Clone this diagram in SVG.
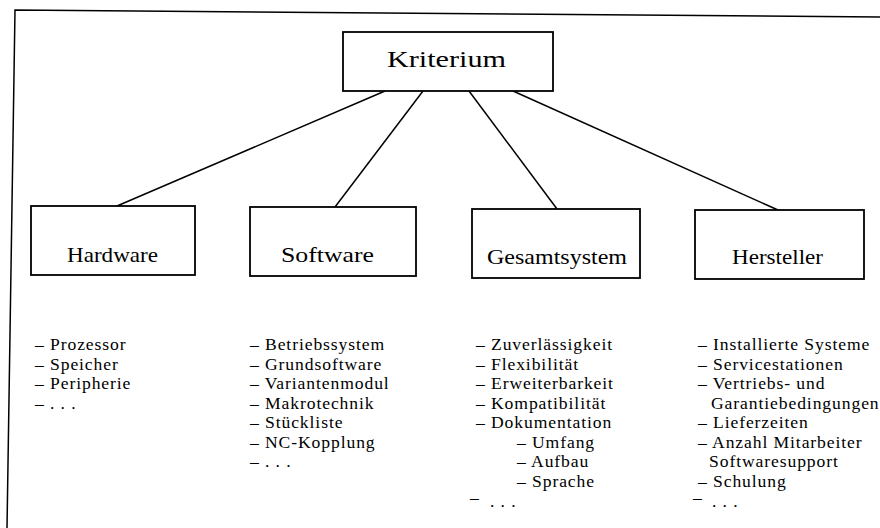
<svg xmlns="http://www.w3.org/2000/svg" width="880" height="528" viewBox="0 0 880 528">
<style>
.box{fill:#fff;stroke:#000;stroke-width:1.8}
.hd{font-family:"Liberation Serif",serif;font-size:22px;fill:#000}
.li{font-family:"Liberation Serif",serif;font-size:17.6px;letter-spacing:0.9px;fill:#000}
.cn{stroke:#000;stroke-width:1.5;fill:none}
</style>
<rect width="880" height="528" fill="#fff"/>
<polyline class="cn" points="7,528 15,10 880,17"/>
<g id="connectors">
<line class="cn" x1="385" y1="91" x2="117" y2="206"/>
<line class="cn" x1="423" y1="91" x2="335" y2="207"/>
<line class="cn" x1="469" y1="91" x2="557" y2="209"/>
<line class="cn" x1="513" y1="91" x2="778" y2="210"/>
</g>
<g id="kriterium">
<rect class="box" x="343" y="32" width="210" height="59"/>
<text class="hd" style="font-size:24px" x="387" y="67" textLength="119" lengthAdjust="spacingAndGlyphs">Kriterium</text>
</g>
<g id="hardware">
<rect class="box" x="31" y="206" width="164" height="69"/>
<text class="hd" x="67" y="262" textLength="91" lengthAdjust="spacingAndGlyphs">Hardware</text>
</g>
<g id="software">
<rect class="box" x="250" y="207" width="166" height="69"/>
<text class="hd" x="281" y="262" textLength="93" lengthAdjust="spacingAndGlyphs">Software</text>
</g>
<g id="gesamtsystem">
<rect class="box" x="472" y="209" width="168" height="69"/>
<text class="hd" x="487" y="264" textLength="140" lengthAdjust="spacingAndGlyphs">Gesamtsystem</text>
</g>
<g id="hersteller">
<rect class="box" x="695" y="210" width="169" height="69"/>
<text class="hd" x="732" y="264" textLength="91" lengthAdjust="spacingAndGlyphs">Hersteller</text>
</g>
<g id="hardware-list">
<text class="li"><tspan x="35" y="350">– Prozessor</tspan><tspan x="35" y="369.5">– Speicher</tspan><tspan x="35" y="389">– Peripherie</tspan><tspan x="35" y="408.5">– . . .</tspan></text>
</g>
<g id="software-list">
<text class="li"><tspan x="250" y="350">– Betriebssystem</tspan><tspan x="250" y="369.5">– Grundsoftware</tspan><tspan x="250" y="389">– Variantenmodul</tspan><tspan x="250" y="408.5">– Makrotechnik</tspan><tspan x="250" y="428">– Stückliste</tspan><tspan x="250" y="447.5">– NC-Kopplung</tspan><tspan x="250" y="467">– . . .</tspan></text>
</g>
<g id="gesamtsystem-list">
<text class="li"><tspan x="476" y="350">– Zuverlässigkeit</tspan><tspan x="476" y="369.5">– Flexibilität</tspan><tspan x="476" y="389">– Erweiterbarkeit</tspan><tspan x="476" y="408.5">– Kompatibilität</tspan><tspan x="476" y="428">– Dokumentation</tspan><tspan x="517" y="447.5">– Umfang</tspan><tspan x="517" y="467">– Aufbau</tspan><tspan x="517" y="486.5">– Sprache</tspan><tspan x="470" y="503">–</tspan><tspan x="490" y="507">. . .</tspan></text>
</g>
<g id="hersteller-list">
<text class="li"><tspan x="698" y="350">– Installierte Systeme</tspan><tspan x="698" y="369.5">– Servicestationen</tspan><tspan x="698" y="389">– Vertriebs- und</tspan><tspan x="711" y="408.5">Garantiebedingungen</tspan><tspan x="698" y="428">– Lieferzeiten</tspan><tspan x="698" y="447.5">– Anzahl Mitarbeiter</tspan><tspan x="709" y="467">Softwaresupport</tspan><tspan x="698" y="486.5">– Schulung</tspan><tspan x="693" y="503">–</tspan><tspan x="712" y="507">. . .</tspan></text>
</g>
</svg>
